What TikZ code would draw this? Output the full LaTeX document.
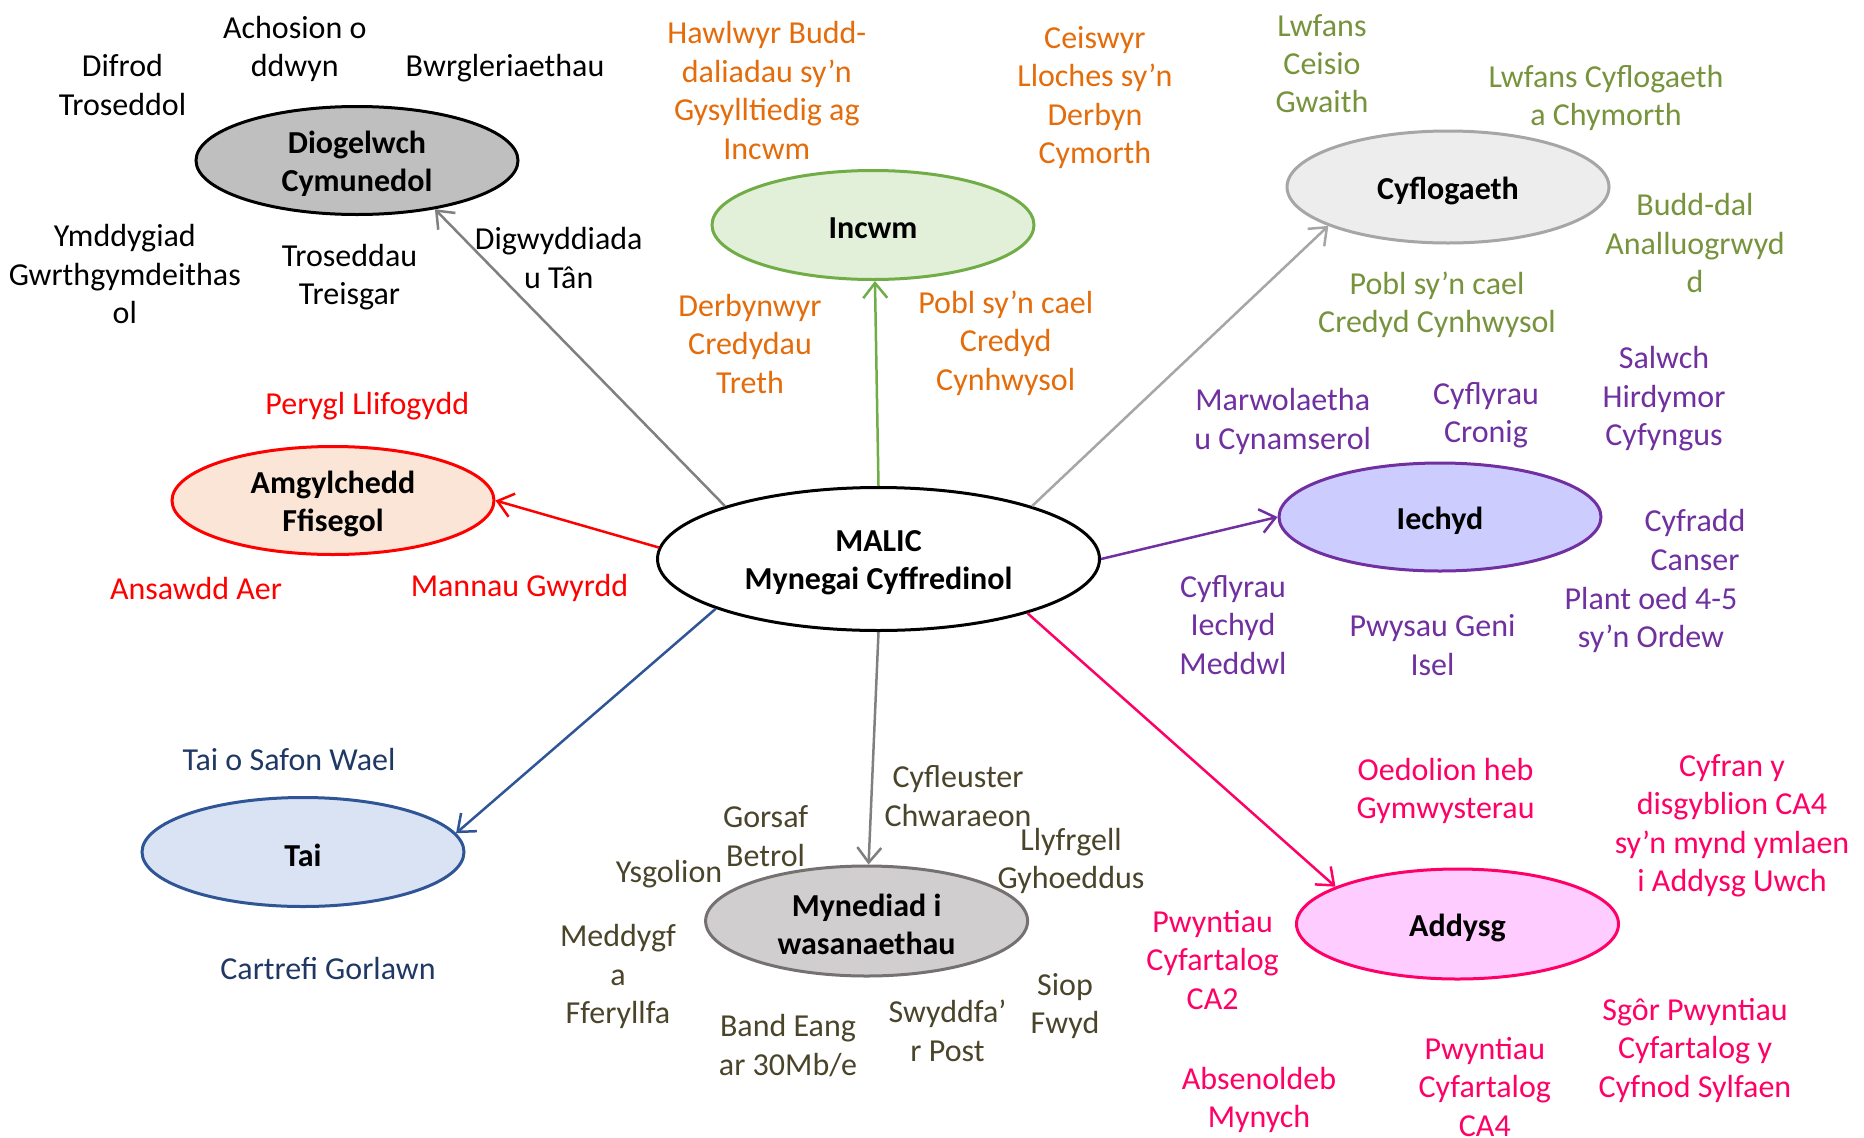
\documentclass[tikz,border=0pt]{standalone}
\usepackage{fontspec}
\setmainfont{Carlito}
\usetikzlibrary{shapes.geometric,arrows.meta}
\definecolor{cOrange}{HTML}{E46C0A}
\definecolor{cOlive}{HTML}{77933C}
\definecolor{cRed}{HTML}{FF0000}
\definecolor{cPurple}{HTML}{7030A0}
\definecolor{cBlue}{HTML}{1F3864}
\definecolor{cBrown}{HTML}{4A452A}
\definecolor{cPink}{HTML}{FF0066}
\definecolor{lGreen}{HTML}{70AD47}
\definecolor{fGreen}{HTML}{E2EFD9}
\definecolor{lGray}{HTML}{A6A6A6}
\definecolor{fGray}{HTML}{EDEDED}
\definecolor{fDark}{HTML}{BFBFBF}
\definecolor{fPeach}{HTML}{FBE5D6}
\definecolor{fLav}{HTML}{CCCCFF}
\definecolor{lBlue}{HTML}{2F5597}
\definecolor{fBlue}{HTML}{DAE3F3}
\definecolor{lMyn}{HTML}{767171}
\definecolor{fMyn}{HTML}{D0CECE}
\definecolor{fPink}{HTML}{FFCCFF}
\definecolor{aGray}{HTML}{808080}
\begin{document}
\begin{tikzpicture}[x=1pt,y=-1pt,
  ell/.style={ellipse, draw, line width=3pt, inner sep=0pt, minimum width=322pt, minimum height=108pt},
  etxt/.style={inner sep=0pt, align=center, text=black, yshift=-3.5pt,
    font=\fontsize{32}{38.4}\selectfont\bfseries},
  lab/.style={inner sep=0pt, align=center, font=\fontsize{32}{38.4}\selectfont, yshift=-3pt},
  arr/.style={line width=2.5pt, -{Straight Barb[length=15pt,width=24pt]}}]
\useasboundingbox[fill=white] (0,0) rectangle (1864,1138);

% ellipses
\node[ell, fill=fDark, draw=black, label={[etxt]center:Diogelwch\\Cymunedol}] (diog) at (357,160.5) {};
\node[ell, fill=fGreen, draw=lGreen, minimum height=109pt, label={[etxt]center:Incwm}] (incwm) at (873,225) {};
\node[ell, fill=fGray, draw=lGray, minimum height=112pt, label={[etxt]center:Cyflogaeth}] (cyflog) at (1448,187) {};
\node[ell, fill=fPeach, draw=cRed, label={[etxt]center:Amgylchedd\\Ffisegol}] (amgy) at (333,500.5) {};
\node[ell, fill=white, draw=black, minimum width=442pt, minimum height=143pt, label={[etxt]center:MALIC\\Mynegai Cyffredinol}] (malic) at (878.5,559) {};
\node[ell, fill=fLav, draw=cPurple, label={[etxt]center:Iechyd}] (iechyd) at (1440,517) {};
\node[ell, fill=fBlue, draw=lBlue, minimum height=109pt, label={[etxt]center:Tai}] (tai) at (303,852) {};
\node[ell, fill=fMyn, draw=lMyn, minimum height=110pt, label={[etxt]center:Mynediad i\\wasanaethau}] (myn) at (866.6,921) {};
\node[ell, fill=fPink, draw=cPink, minimum height=110pt, label={[etxt]center:Addysg}] (addysg) at (1457.5,924) {};

% arrows
\draw[arr, aGray] (malic.161) -- (diog.-32);
\draw[arr, lGreen] (malic.90) -- (incwm.-88);
\draw[arr, lGray] (malic.19) -- (cyflog.-162.5);
\draw[arr, cRed] (malic.177.5) -- (amgy.0);
\draw[arr, cPurple] (malic.0.7) -- (iechyd.180);
\draw[arr, lBlue] (malic.-163) -- (tai.7.2);
\draw[arr, aGray] (malic.270) -- (myn.88);
\draw[arr, cPink] (malic.-20.8) -- (addysg.163.8);

% Diogelwch labels
\begin{scope}[every node/.style={lab, text=black}]
\node (d1) at (122.5,82) {Difrod\\Troseddol};
\node (d2) at (294.8,45.8) {Achosion o\\ddwyn};
\node (d3) at (505,65.4) {Bwrgleriaethau};
\node (d4) at (124.8,271) {Ymddygiad\\Gwrthgymdeithas\\ol};
\node (d5) at (349.5,274) {Troseddau\\Treisgar};
\node (d6) at (558.7,255) {Digwyddiada\\u Tân};
\end{scope}

% Incwm labels
\begin{scope}[every node/.style={lab, text=cOrange}]
\node (i1) at (766.8,87.4) {Hawlwyr Budd-\\daliadau sy’n\\Gysylltiedig ag\\Incwm};
\node (i2) at (1094.9,94.5) {Ceiswyr\\Lloches sy’n\\Derbyn\\Cymorth};
\node (i3) at (750,341) {Derbynwyr\\Credydau\\Treth};
\node (i4) at (1005.7,340) {Pobl sy’n cael\\Credyd\\Cynhwysol};
\end{scope}

% Cyflogaeth labels
\begin{scope}[every node/.style={lab, text=cOlive}]
\node (c1) at (1322,60.6) {Lwfans\\Ceisio\\Gwaith};
\node (c2) at (1606,95) {Lwfans Cyflogaeth\\a Chymorth};
\node (c3) at (1695,240) {Budd-dal\\Analluogrwyd\\d};
\node (c4) at (1437,302) {Pobl sy’n cael\\Credyd Cynhwysol};
\end{scope}

% Amgylchedd labels
\begin{scope}[every node/.style={lab, text=cRed}]
\node (a1) at (367.3,403) {Perygl Llifogydd};
\node (a2) at (196,585) {Ansawdd Aer};
\node (a3) at (519.5,585) {Mannau Gwyrdd};
\end{scope}

% Iechyd labels
\begin{scope}[every node/.style={lab, text=cPurple}]
\node (h1) at (1282.7,418.5) {Marwolaetha\\u Cynamserol};
\node (h2) at (1486,412.5) {Cyflyrau\\Cronig};
\node (h3) at (1664,396) {Salwch\\Hirdymor\\Cyfyngus};
\node (h4) at (1695,537) {Cyfradd\\Canser};
\node (h5) at (1651,617) {Plant oed 4-5\\sy’n Ordew};
\node (h6) at (1233,622) {Cyflyrau\\Iechyd\\Meddwl};
\node (h7) at (1432.5,642) {Pwysau Geni\\Isel};
\end{scope}

% Tai labels
\begin{scope}[every node/.style={lab, text=cBlue}]
\node (t1) at (289,756) {Tai o Safon Wael};
\node (t2) at (328,965) {Cartrefi Gorlawn};
\end{scope}

% Mynediad labels
\begin{scope}[every node/.style={lab, text=cBrown}]
\node (m1) at (765.6,833.3) {Gorsaf\\Betrol};
\node (m2) at (958,793) {Cyfleuster\\Chwaraeon};
\node (m3) at (1071,858) {Llyfrgell\\Gyhoeddus};
\node (m4) at (669,871.4) {Ysgolion};
\node (m5) at (618,973.6) {Meddygf\\a\\Fferyllfa};
\node (m6) at (788,1042.6) {Band Eang\\ar 30Mb/e};
\node (m7) at (947.5,1028) {Swyddfa’\\r Post};
\node (m8) at (1065,1003) {Siop\\Fwyd};
\end{scope}

% Addysg labels
\begin{scope}[every node/.style={lab, text=cPink}]
\node (e1) at (1445.6,788) {Oedolion heb\\Gymwysterau};
\node (e2) at (1732,822.6) {Cyfran y\\disgyblion CA4\\sy’n mynd ymlaen\\i Addysg Uwch};
\node (e3) at (1212.6,957) {Pwyntiau\\Cyfartalog\\CA2};
\node (e4) at (1695,1047.3) {Sgôr Pwyntiau\\Cyfartalog y\\Cyfnod Sylfaen};
\node (e5) at (1259,1097) {Absenoldeb\\Mynych};
\node (e6) at (1484.8,1084) {Pwyntiau\\Cyfartalog\\CA4};
\end{scope}
\end{tikzpicture}
\end{document}
